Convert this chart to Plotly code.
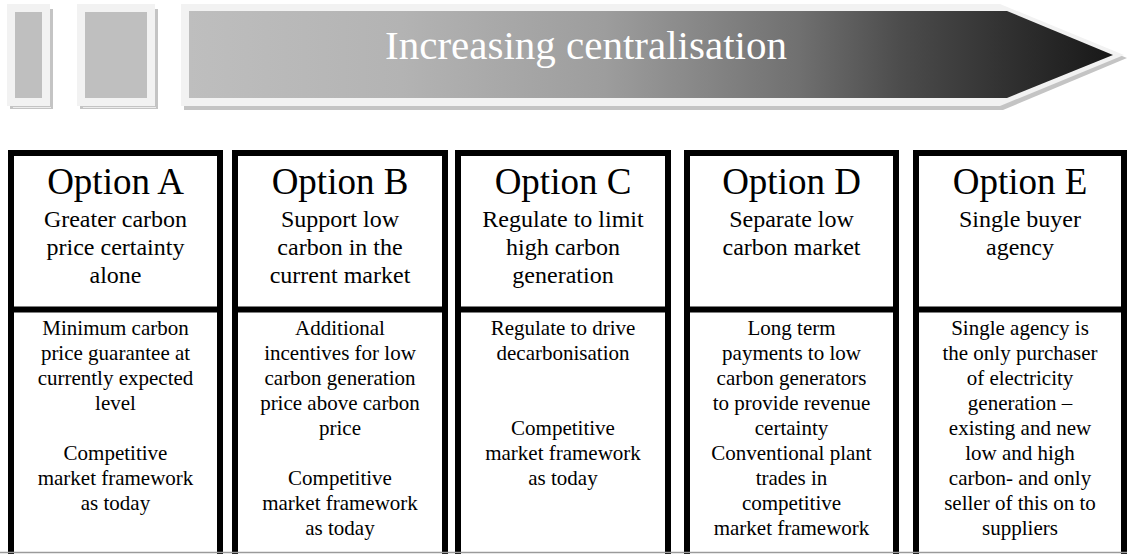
import plotly.graph_objects as go

# ---------------- data ----------------
title_text = "Increasing centralisation"
options = ["Option A", "Option B", "Option C", "Option D", "Option E"]
subtitles = [
    ["Greater carbon", "price certainty", "alone"],
    ["Support low", "carbon in the", "current market"],
    ["Regulate to limit", "high carbon", "generation"],
    ["Separate low", "carbon market"],
    ["Single buyer", "agency"],
]
bodies = [
    ["Minimum carbon", "price guarantee at", "currently expected", "level", "",
     "Competitive", "market framework", "as today"],
    ["Additional", "incentives for low", "carbon generation", "price above carbon", "price", "",
     "Competitive", "market framework", "as today"],
    ["Regulate to drive", "decarbonisation", "", "",
     "Competitive", "market framework", "as today"],
    ["Long term", "payments to low", "carbon generators", "to provide revenue", "certainty",
     "Conventional plant", "trades in", "competitive", "market framework"],
    ["Single agency is", "the only purchaser", "of electricity", "generation \u2013",
     "existing and new", "low and high", "carbon- and only", "seller of this on to", "suppliers"],
]

# ---------------- layout constants ----------------
W, H = 1127, 554
SERIF = "Liberation Serif"
box_left = [8, 232, 455, 684, 913]
box_right = [223, 448, 671, 899, 1127]
BORDER = 6
box_top = 150
divider_y = 309.5

HEAD_SIZE, SUB_SIZE, BODY_SIZE = 37, 24, 21
head_base = 198
sub_base, sub_step = 229, 28
body_base, body_step = 337, 25

fig = go.Figure()
shapes = []


def rect(x0, y0, x1, y1, fill, line_color=None, line_width=0, layer="below"):
    shapes.append(dict(type="rect", xref="x", yref="y", x0=x0, y0=y0, x1=x1, y1=y1,
                       fillcolor=fill, layer=layer,
                       line=dict(color=line_color or fill, width=line_width)))


# decorative small panels (shadow, light frame, grey inner)
for (ox0, ox1) in [(7, 50), (77, 155)]:
    rect(ox0 + 3, 9, ox1 + 3, 109, "#c4c4c4")
    shapes.append(dict(type="line", x0=ox0 + 6, x1=ox1 + 1, y0=107.5, y1=107.5,
                       line=dict(color="#ececec", width=1), layer="below"))
    rect(ox0, 4, ox1, 106, "#f2f2f2")
    rect(ox0 + 8, 12, ox1 - 8, 98, "#bfbfbf")


# arrow: shadow, light frame, gradient inner
def arrow_poly(x0, y0, xb, xt, y1, ym):
    return [x0, xb, xt, xb, x0, x0], [y0, y0, ym, y1, y1, y0]


sx, sy = arrow_poly(184, 8, 1003, 1127, 110, 58)
fig.add_trace(go.Scatter(x=sx, y=sy, fill="toself", fillcolor="#c4c4c4", mode="lines",
                         line=dict(width=0, color="#c4c4c4"), hoverinfo="skip", showlegend=False))
ox, oy = arrow_poly(181, 4, 1000, 1124, 106, 55)
fig.add_trace(go.Scatter(x=ox, y=oy, fill="toself", fillcolor="#f2f2f2", mode="lines",
                         line=dict(width=0, color="#f2f2f2"), hoverinfo="skip", showlegend=False))
ix, iy = arrow_poly(189, 11, 1007, 1113, 98, 55)
grad_stops = [[0.0, "rgb(190,190,190)"], [0.23, "rgb(179,179,179)"], [0.45, "rgb(157,157,157)"],
              [0.66, "rgb(112,112,112)"], [0.77, "rgb(76,76,76)"], [0.88, "rgb(50,50,50)"],
              [1.0, "rgb(24,24,24)"]]
fig.add_trace(go.Scatter(x=ix, y=iy, fill="toself", mode="lines",
                         fillgradient=dict(type="horizontal", colorscale=grad_stops),
                         line=dict(width=0, color="rgba(0,0,0,0)"), hoverinfo="skip",
                         showlegend=False))

# title text on arrow
fig.add_trace(go.Scatter(x=[586], y=[63 - 0.35 * 41], mode="text", text=[title_text],
                         textposition="middle center",
                         textfont=dict(family=SERIF, size=41, color="white"),
                         hoverinfo="skip", showlegend=False))

# boxes
for i in range(len(options)):
    x0 = box_left[i] + BORDER / 2
    x1 = box_right[i] - BORDER / 2
    shapes.append(dict(type="rect", x0=x0, x1=x1, y0=box_top + BORDER / 2, y1=H + 20,
                       line=dict(color="black", width=BORDER), fillcolor="rgba(0,0,0,0)",
                       layer="above"))
    shapes.append(dict(type="line", x0=x0, x1=x1, y0=divider_y, y1=divider_y,
                       line=dict(color="black", width=BORDER), layer="above"))

# bottom grey edge
shapes.append(dict(type="line", x0=0, x1=W, y0=552.5, y1=552.5,
                   line=dict(color="#9a9a9a", width=1.5), layer="above"))

# texts in boxes
for i, name in enumerate(options):
    cx = (box_left[i] + box_right[i]) / 2
    fig.add_trace(go.Scatter(x=[cx], y=[head_base - 0.35 * HEAD_SIZE], mode="text", text=[name],
                             textposition="middle center",
                             textfont=dict(family=SERIF, size=HEAD_SIZE, color="black"),
                             hoverinfo="skip", showlegend=False))
    sub = subtitles[i]
    fig.add_trace(go.Scatter(x=[cx] * len(sub),
                             y=[sub_base + k * sub_step - 0.35 * SUB_SIZE for k in range(len(sub))],
                             mode="text", text=sub, textposition="middle center",
                             textfont=dict(family=SERIF, size=SUB_SIZE, color="black"),
                             hoverinfo="skip", showlegend=False))
    body = bodies[i]
    fig.add_trace(go.Scatter(x=[cx] * len(body),
                             y=[body_base + k * body_step - 0.35 * BODY_SIZE for k in range(len(body))],
                             mode="text", text=body, textposition="middle center",
                             textfont=dict(family=SERIF, size=BODY_SIZE, color="black"),
                             hoverinfo="skip", showlegend=False))

fig.update_layout(
    width=W, height=H, autosize=False,
    margin=dict(l=0, r=0, t=0, b=0, pad=0),
    paper_bgcolor="white", plot_bgcolor="white",
    font=dict(family=SERIF),
    showlegend=False, shapes=shapes,
    xaxis=dict(range=[0, W], visible=False, fixedrange=True),
    yaxis=dict(range=[H, 0], visible=False, fixedrange=True),
)

fig.write_html("out.html", config={"displayModeBar": False, "staticPlot": True},
               post_script="document.body.style.margin='0px';document.body.style.overflow='hidden';")
